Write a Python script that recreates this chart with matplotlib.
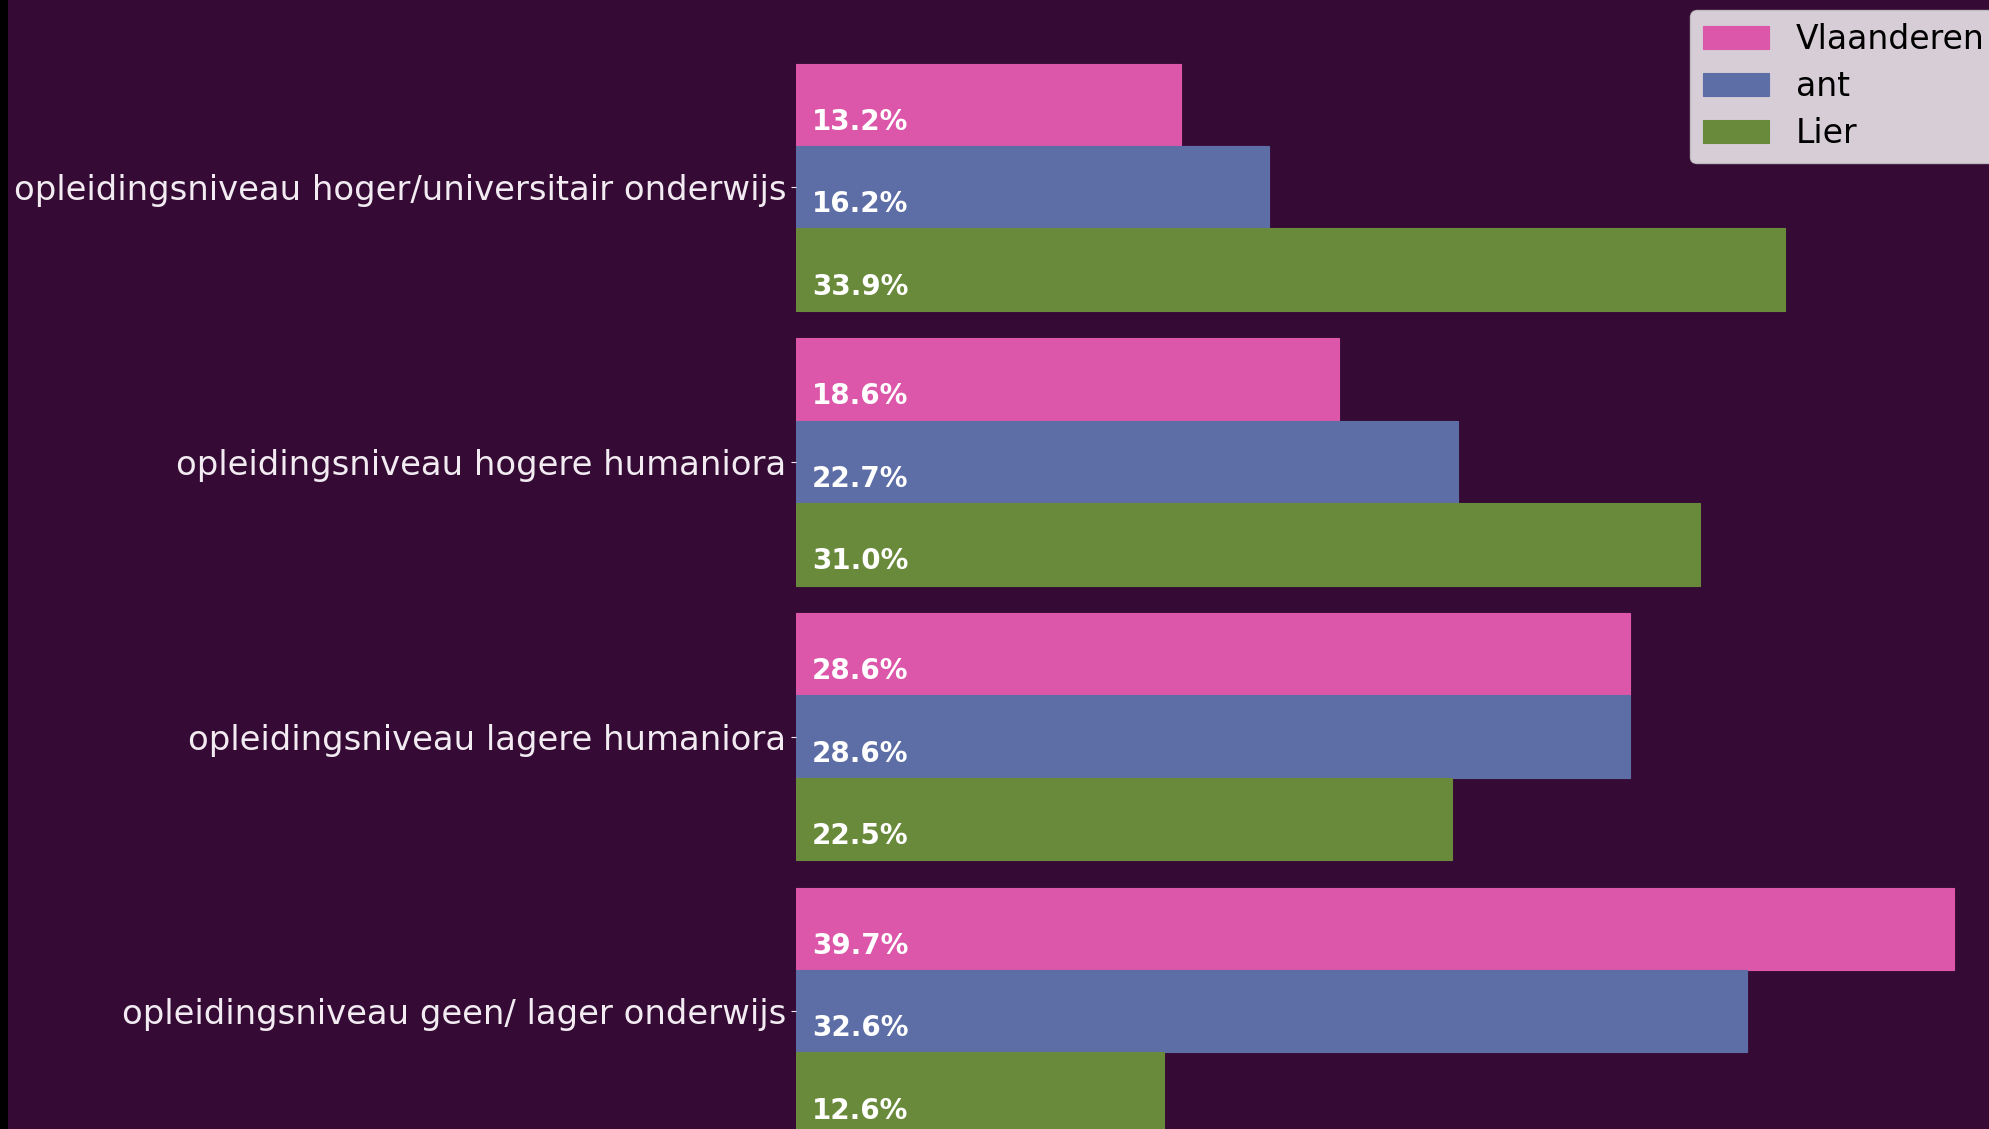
import matplotlib
matplotlib.use("Agg")
import matplotlib.pyplot as plt
import numpy as np
from matplotlib.patches import Rectangle

categories = ['opleidingsniveau hoger/universitair onderwijs',
              'opleidingsniveau hogere humaniora',
              'opleidingsniveau lagere humaniora',
              'opleidingsniveau geen/ lager onderwijs']
series_names = ['Vlaanderen', 'ant', 'Lier']
vlaanderen = [13.2, 18.6, 28.6, 39.7]
ant = [16.2, 22.7, 28.6, 32.6]
lier = [33.9, 31.0, 22.5, 12.6]
series_values = [vlaanderen, ant, lier]
colors = ['#dc57a9', '#5d6ea6', '#6a8a3b']

BG = '#350b35'
W, H = 1989, 1129
fig = plt.figure(figsize=(W / 100, H / 100), dpi=100, facecolor=BG)
fig.patches.append(Rectangle((0, 0), 8 / W, 1, transform=fig.transFigure,
                             facecolor='black', edgecolor='none', zorder=-1))

left = 796 / W
ax = fig.add_axes([left, 0, 1 - left, 1])
ax.set_facecolor(BG)

y = np.arange(len(categories))
h = 0.3
for k, (name, vals, c) in enumerate(zip(series_names, series_values, colors)):
    pos = y + (k - 1) * h
    ax.barh(pos, vals, height=h, color=c, label=name, edgecolor=c, linewidth=0.8)
    for p, v in zip(pos, vals):
        ax.annotate(f'{v:.1f}%', xy=(0, p), xytext=(11.5, -18.0),
                    textcoords='offset points', ha='left', va='baseline',
                    color='white', fontweight='bold', fontsize=20)

ax.set_xlim(0, (W - 796) / 29.17)
ax.set_ylim(3.4285, -0.6815)
ax.set_yticks(y)
ax.set_yticklabels(categories)
ax.tick_params(axis='y', colors='#f2ecf2', labelsize=24.4)
ax.set_xticks([])
for s in ax.spines.values():
    s.set_visible(False)

leg = ax.legend(loc='upper left', bbox_to_anchor=(1690 / W, 1 - 10 / H),
                bbox_transform=fig.transFigure, borderaxespad=0,
                fontsize=23.8, labelspacing=0.42, frameon=True)
leg.get_frame().set_facecolor('white')
leg.get_frame().set_alpha(0.8)

fig.savefig('out.png', dpi=100, facecolor=BG)
